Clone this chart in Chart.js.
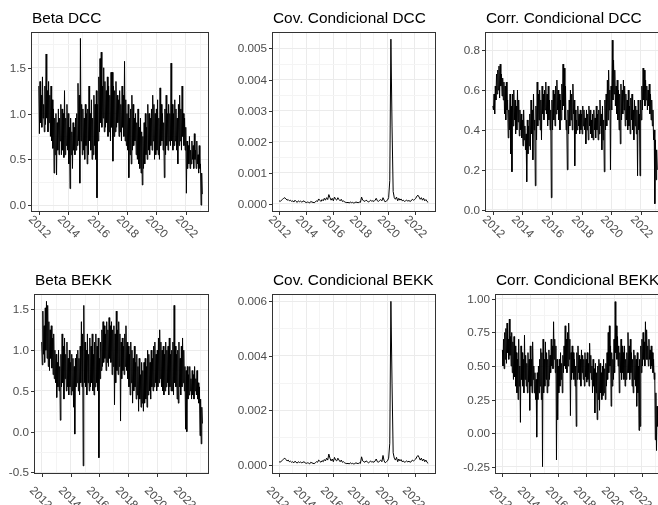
<!DOCTYPE html>
<html>
<head>
<meta charset="utf-8">
<script src="https://cdn.jsdelivr.net/npm/chart.js@4.4.1/dist/chart.umd.min.js"></script>
<style>
  html, body { margin: 0; padding: 0; background: #ffffff; }
  #wrap { position: relative; width: 658px; height: 505px; overflow: hidden; background: #ffffff; }
  canvas { position: absolute; }
</style>
</head>
<body>
<div id="wrap">
  <canvas id="p1"></canvas>
  <canvas id="p2"></canvas>
  <canvas id="p3"></canvas>
  <canvas id="p4"></canvas>
  <canvas id="p5"></canvas>
  <canvas id="p6"></canvas>
</div>
<script>
// ==================================================
// DATA (two readings per month
// for beta / corr, one per month for cov)
// ==================================================
const firstYear = 2012;
const xTickYears = [2012, 2014, 2016, 2018, 2020, 2022];
const xTickLabels = ["2012", "2014", "2016", "2018", "2020", "2022"];

const betaDcc = [
  1.30,0.78, 1.35,0.90, 1.20,0.85, 1.40,0.95, 1.10,0.80, 1.30,0.88, 1.65,0.95, 1.25,0.80, 1.35,0.90, 1.20,0.75, 1.30,0.70, 1.15,0.62,
  1.05,0.35, 0.95,0.55, 1.00,0.33, 0.90,0.60, 1.05,0.55, 0.95,0.70, 1.10,0.55, 1.05,0.60, 1.00,0.52, 1.25,0.55, 0.95,0.65, 1.10,0.60,
  1.00,0.45, 0.85,0.18, 0.95,0.55, 0.80,0.40, 0.90,0.60, 0.85,0.55, 0.95,0.60, 1.00,0.65, 1.33,0.70, 1.20,0.24, 1.82,0.70, 1.10,0.55,
  1.05,0.60, 0.95,0.50, 1.10,0.65, 1.00,0.45, 1.05,0.55, 1.30,0.70, 1.00,0.60, 1.15,0.50, 0.95,0.55, 1.20,0.65, 1.10,0.50, 1.25,0.08,
  1.10,0.70, 1.40,0.80, 1.60,0.90, 1.67,0.85, 1.30,0.95, 1.50,0.80, 1.35,0.85, 1.25,0.90, 1.40,0.75, 1.30,0.80, 1.20,0.70, 1.45,0.85,
  1.45,0.48, 1.30,0.75, 1.25,0.80, 1.35,0.85, 1.20,0.90, 1.15,0.75, 1.25,0.80, 1.10,0.70, 1.30,0.85, 1.20,0.75, 1.57,0.70, 1.15,0.65,
  1.00,0.60, 1.10,0.30, 0.95,0.55, 1.05,0.45, 1.20,0.60, 1.10,0.65, 0.95,0.70, 1.00,0.55, 0.90,0.50, 1.05,0.45, 0.85,0.40, 0.95,0.35,
  0.80,0.22, 0.75,0.40, 0.90,0.45, 1.00,0.55, 0.85,0.50, 1.10,0.60, 1.00,0.55, 0.95,0.65, 1.05,0.60, 1.20,0.70, 1.10,0.50, 1.00,0.55,
  1.05,0.60, 1.15,0.55, 0.95,0.50, 1.28,0.65, 1.10,0.70, 1.00,0.60, 0.90,0.30, 1.05,0.55, 1.20,0.65, 1.00,0.60, 1.10,0.70, 1.00,0.65,
  1.55,0.70, 1.10,0.60, 1.00,0.65, 1.15,0.70, 1.05,0.60, 0.95,0.45, 1.10,0.65, 1.20,0.70, 1.05,0.60, 1.30,0.75, 1.00,0.65, 0.95,0.60,
  0.85,0.13, 0.70,0.40, 0.65,0.45, 0.75,0.40, 0.60,0.45, 0.70,0.50, 0.65,0.40, 0.78,0.50, 0.60,0.40, 0.70,0.45, 0.55,0.35, 0.65,0.40,
  0.45,0.00, 0.35,0.12
];

const covDcc = [
  0.00010,0.00008,0.00012,0.00015,0.00018,0.00020,0.00016,0.00012,0.00014,0.00010,0.00012,0.00008,
  0.00010,0.00006,0.00012,0.00008,0.00005,0.00010,0.00007,0.00009,0.00006,0.00008,0.00010,0.00006,
  0.00004,0.00006,0.00005,0.00003,0.00008,0.00006,0.00005,0.00004,0.00006,0.00010,0.00008,0.00016,
  0.00012,0.00008,0.00014,0.00010,0.00018,0.00012,0.00020,0.00014,0.00030,0.00020,0.00012,0.00018,
  0.00010,0.00022,0.00015,0.00012,0.00020,0.00014,0.00010,0.00015,0.00008,0.00010,0.00006,0.00005,
  0.00004,0.00005,0.00003,0.00006,0.00004,0.00005,0.00003,0.00004,0.00006,0.00005,0.00004,0.00006,
  0.00005,0.00022,0.00012,0.00010,0.00008,0.00012,0.00010,0.00006,0.00008,0.00012,0.00009,0.00010,
  0.00008,0.00012,0.00018,0.00010,0.00008,0.00012,0.00014,0.00010,0.00020,0.00012,0.00006,0.00010,
  0.00012,0.00020,0.00075,0.00530,0.00250,0.00040,0.00020,0.00015,0.00022,0.00010,0.00018,0.00012,
  0.00016,0.00010,0.00012,0.00008,0.00010,0.00012,0.00009,0.00011,0.00008,0.00010,0.00015,0.00012,
  0.00014,0.00018,0.00025,0.00028,0.00022,0.00015,0.00020,0.00012,0.00018,0.00010,0.00014,0.00008,
  0.00005
];

const corrDcc = [
  0.52,0.50, 0.58,0.48, 0.62,0.55, 0.68,0.58, 0.70,0.60, 0.72,0.56, 0.73,0.62, 0.68,0.57, 0.66,0.55, 0.64,0.48, 0.62,0.45, 0.64,0.50,
  0.55,0.36, 0.50,0.40, 0.58,0.28, 0.52,0.19, 0.58,0.42, 0.60,0.45, 0.55,0.38, 0.52,0.40, 0.60,0.44, 0.55,0.37, 0.50,0.40, 0.48,0.36,
  0.45,0.32, 0.50,0.35, 0.42,0.30, 0.38,0.14, 0.45,0.28, 0.42,0.32, 0.48,0.30, 0.55,0.38, 0.50,0.25, 0.58,0.40, 0.45,0.12, 0.52,0.35,
  0.64,0.42, 0.58,0.45, 0.60,0.40, 0.55,0.35, 0.62,0.48, 0.58,0.45, 0.60,0.50, 0.64,0.48, 0.58,0.42, 0.62,0.45, 0.55,0.40, 0.50,0.06,
  0.55,0.40, 0.60,0.45, 0.58,0.42, 0.62,0.48, 0.65,0.50, 0.60,0.45, 0.58,0.40, 0.55,0.45, 0.63,0.50, 0.73,0.52, 0.71,0.45, 0.62,0.40,
  0.45,0.20, 0.50,0.38, 0.55,0.42, 0.60,0.45, 0.58,0.40, 0.63,0.48, 0.55,0.22, 0.50,0.38, 0.45,0.40, 0.52,0.42, 0.48,0.38, 0.50,0.40,
  0.48,0.38, 0.52,0.42, 0.50,0.40, 0.46,0.33, 0.50,0.40, 0.48,0.35, 0.52,0.42, 0.50,0.38, 0.45,0.36, 0.48,0.35, 0.50,0.40, 0.46,0.36,
  0.52,0.40, 0.48,0.35, 0.50,0.38, 0.55,0.42, 0.48,0.30, 0.52,0.35, 0.45,0.19, 0.55,0.40, 0.58,0.42, 0.65,0.45, 0.70,0.50, 0.60,0.20,
  0.62,0.50, 0.85,0.55, 0.75,0.58, 0.70,0.52, 0.62,0.48, 0.65,0.45, 0.60,0.40, 0.58,0.33, 0.63,0.45, 0.60,0.48, 0.65,0.50, 0.62,0.42,
  0.58,0.45, 0.55,0.40, 0.60,0.42, 0.52,0.38, 0.56,0.45, 0.58,0.40, 0.50,0.35, 0.55,0.42, 0.52,0.38, 0.50,0.17, 0.55,0.40, 0.48,0.17,
  0.55,0.45, 0.62,0.50, 0.71,0.55, 0.70,0.52, 0.65,0.55, 0.62,0.50, 0.60,0.52, 0.63,0.48, 0.58,0.45, 0.55,0.42, 0.50,0.35, 0.40,0.03,
  0.35,0.15, 0.30,0.20
];

const betaBekk = [
  1.10,0.82, 1.48,0.95, 1.30,0.85, 1.52,1.00, 1.60,0.90, 1.55,0.80, 1.35,0.75, 1.25,0.90, 1.30,0.78, 1.15,0.70, 1.20,0.65, 1.00,0.60,
  0.95,0.42, 0.85,0.55, 1.00,0.50, 0.80,0.14, 0.95,0.55, 1.20,0.60, 1.05,0.40, 1.15,0.65, 0.95,0.50, 1.10,0.55, 0.90,0.45, 1.00,0.55,
  0.85,0.45, 0.95,0.50, 0.90,0.30, 0.80,-0.03, 0.90,0.55, 0.95,0.60, 1.00,0.50, 0.90,0.45, 1.05,0.60, 1.35,0.55, 1.20,-0.42, 1.55,0.60,
  1.10,0.55, 1.00,0.45, 1.20,0.60, 0.95,0.50, 1.15,0.55, 1.05,0.60, 1.20,0.50, 0.95,0.45, 1.10,0.55, 1.20,0.60, 1.05,0.50, 1.15,-0.32,
  0.90,0.65, 1.10,0.75, 1.25,0.80, 1.35,0.85, 1.30,0.90, 1.20,0.75, 1.35,0.85, 1.25,0.80, 1.40,0.90, 1.30,0.85, 1.35,0.70, 1.25,0.80,
  1.30,0.33, 1.20,0.60, 1.48,0.75, 1.25,0.70, 1.35,0.80, 1.20,0.13, 1.10,0.65, 1.15,0.75, 1.05,0.70, 1.20,0.80, 1.30,0.75, 1.10,0.65,
  1.05,0.55, 0.95,0.45, 1.10,0.60, 1.00,0.35, 0.90,0.50, 1.05,0.55, 0.85,0.40, 0.95,0.45, 0.80,0.25, 0.90,0.40, 0.70,0.30, 0.85,0.35,
  0.75,0.25, 0.85,0.35, 0.90,0.40, 0.80,0.30, 1.00,0.45, 0.95,0.50, 0.85,0.40, 1.00,0.55, 0.90,0.50, 1.05,0.55, 1.10,0.60, 0.95,0.50,
  1.00,0.55, 1.15,0.60, 1.25,0.65, 1.10,0.55, 1.00,0.50, 1.05,0.45, 0.95,0.50, 1.10,0.55, 1.00,0.60, 1.05,0.45, 1.15,0.55, 0.95,0.50,
  1.00,0.50, 1.10,0.45, 1.55,0.60, 1.05,0.55, 0.95,0.40, 1.00,0.35, 1.10,0.55, 0.90,0.45, 1.05,0.55, 1.15,0.60, 1.00,0.50, 0.80,0.03,
  0.75,0.00, 0.80,0.40, 0.70,0.45, 0.80,0.50, 0.65,0.40, 0.75,0.45, 0.70,0.40, 0.80,0.50, 0.65,0.45, 0.75,0.40, 0.60,0.35, 0.55,-0.05,
  0.40,-0.15, 0.30,0.10
];

const covBekk = [
  0.00012,0.00010,0.00015,0.00018,0.00022,0.00025,0.00020,0.00015,0.00018,0.00012,0.00014,0.00010,
  0.00012,0.00008,0.00014,0.00010,0.00007,0.00012,0.00009,0.00011,0.00008,0.00010,0.00012,0.00008,
  0.00006,0.00008,0.00007,0.00004,0.00010,0.00008,0.00006,0.00005,0.00008,0.00012,0.00010,0.00018,
  0.00014,0.00010,0.00016,0.00012,0.00020,0.00015,0.00025,0.00018,0.00040,0.00025,0.00015,0.00022,
  0.00012,0.00028,0.00018,0.00015,0.00025,0.00018,0.00012,0.00018,0.00010,0.00012,0.00008,0.00006,
  0.00005,0.00006,0.00004,0.00008,0.00005,0.00006,0.00004,0.00005,0.00008,0.00006,0.00005,0.00008,
  0.00006,0.00030,0.00015,0.00012,0.00010,0.00015,0.00012,0.00008,0.00010,0.00015,0.00011,0.00012,
  0.00010,0.00015,0.00022,0.00012,0.00010,0.00015,0.00018,0.00012,0.00035,0.00015,0.00008,0.00012,
  0.00015,0.00025,0.00080,0.00600,0.00300,0.00045,0.00025,0.00018,0.00028,0.00012,0.00022,0.00015,
  0.00020,0.00012,0.00015,0.00010,0.00012,0.00015,0.00011,0.00014,0.00010,0.00012,0.00018,0.00015,
  0.00018,0.00022,0.00030,0.00035,0.00028,0.00018,0.00025,0.00015,0.00022,0.00012,0.00018,0.00010,
  0.00006
];

const corrBekk = [
  0.62,0.50, 0.70,0.48, 0.75,0.55, 0.78,0.52, 0.82,0.60, 0.70,0.55, 0.85,0.58, 0.72,0.50, 0.75,0.45, 0.68,0.40, 0.72,0.42, 0.65,0.35,
  0.60,0.30, 0.55,0.25, 0.70,0.35, 0.50,0.08, 0.65,0.40, 0.60,0.35, 0.55,0.30, 0.73,0.40, 0.58,0.35, 0.52,0.30, 0.60,0.38, 0.55,0.17,
  0.65,0.35, 0.55,0.30, 0.68,0.40, 0.50,0.30, 0.45,0.25, 0.40,-0.03, 0.45,0.25, 0.50,0.30, 0.55,0.35, 0.63,0.25, 0.60,-0.25, 0.70,0.30,
  0.55,0.35, 0.68,0.40, 0.60,0.30, 0.55,0.35, 0.62,0.40, 0.58,0.45, 0.70,0.50, 0.65,0.48, 0.83,0.55, 0.70,0.45, 0.65,-0.20, 0.55,0.10,
  0.50,0.30, 0.55,0.35, 0.60,0.40, 0.52,0.30, 0.58,0.45, 0.65,0.50, 0.80,0.48, 0.70,0.45, 0.75,0.50, 0.82,0.55, 0.70,0.13, 0.60,0.40,
  0.65,0.45, 0.60,0.40, 0.55,0.35, 0.50,0.05, 0.60,0.40, 0.65,0.45, 0.58,0.40, 0.55,0.35, 0.62,0.45, 0.58,0.40, 0.55,0.35, 0.60,0.42,
  0.55,0.38, 0.60,0.40, 0.52,0.35, 0.67,0.45, 0.58,0.40, 0.50,0.30, 0.55,0.35, 0.48,0.15, 0.52,0.30, 0.45,0.10, 0.50,0.25, 0.55,0.17,
  0.52,0.30, 0.45,0.25, 0.50,0.28, 0.55,0.30, 0.48,0.25, 0.52,0.35, 0.60,0.40, 0.75,0.45, 0.80,0.50, 0.65,0.20, 0.60,0.35, 0.55,0.40,
  0.70,0.45, 0.98,0.60, 0.80,0.55, 0.72,0.50, 0.65,0.30, 0.60,0.45, 0.70,0.40, 0.65,0.45, 0.60,0.40, 0.65,0.35, 0.55,0.40, 0.60,0.45,
  0.75,0.45, 0.65,0.40, 0.70,0.45, 0.60,0.35, 0.55,0.30, 0.62,0.40, 0.58,0.35, 0.55,0.20, 0.60,0.30, 0.50,0.02, 0.55,0.05, 0.65,0.45,
  0.70,0.50, 0.75,0.55, 0.68,0.50, 0.83,0.55, 0.77,0.55, 0.65,0.50, 0.70,0.55, 0.62,0.48, 0.65,0.50, 0.60,0.45, 0.55,0.40, 0.45,-0.05,
  0.30,-0.13, 0.20,0.05
];

// y tick values and their labels for each panel
const yTicksBeta = [0, 0.5, 1, 1.5];
const yLabelsBeta = ["0.0", "0.5", "1.0", "1.5"];
const yTicksCovDcc = [0, 0.001, 0.002, 0.003, 0.004, 0.005];
const yLabelsCovDcc = ["0.000", "0.001", "0.002", "0.003", "0.004", "0.005"];
const yTicksCorrDcc = [0, 0.2, 0.4, 0.6, 0.8];
const yLabelsCorrDcc = ["0.0", "0.2", "0.4", "0.6", "0.8"];
const yTicksBetaBekk = [-0.5, 0, 0.5, 1, 1.5];
const yLabelsBetaBekk = ["-0.5", "0.0", "0.5", "1.0", "1.5"];
const yTicksCovBekk = [0, 0.002, 0.004, 0.006];
const yLabelsCovBekk = ["0.000", "0.002", "0.004", "0.006"];
const yTicksCorrBekk = [-0.25, 0, 0.25, 0.5, 0.75, 1];
const yLabelsCorrBekk = ["-0.25", "0.00", "0.25", "0.50", "0.75", "1.00"];

// ==================================================
// PANEL LAYOUT
// ==================================================
const X_MIN = 2011.47;
const X_MAX = 2023.58;
const PAD = { left: 46, top: 34, right: 8, bottom: 36 };

const panels = [
  { id: "p1", title: "Beta DCC", values: betaDcc, perYear: 24, yMin: -0.075, yMax: 1.89,
    yTicks: yTicksBeta, yLabels: yLabelsBeta, box: [31, 32, 209, 212], labelDx: 0, labelDy: 15 },
  { id: "p2", title: "Cov. Condicional DCC", values: covDcc, perYear: 12, yMin: -0.00026, yMax: 0.00553,
    yTicks: yTicksCovDcc, yLabels: yLabelsCovDcc, box: [272, 32, 436, 212], labelDx: 0, labelDy: 15 },
  { id: "p3", title: "Corr. Condicional DCC", values: corrDcc, perYear: 24, yMin: -0.0115, yMax: 0.891,
    yTicks: yTicksCorrDcc, yLabels: yLabelsCorrDcc, box: [485, 32, 664, 212], labelDx: 0, labelDy: 15 },
  { id: "p4", title: "Beta BEKK", values: betaBekk, perYear: 24, yMin: -0.52, yMax: 1.69,
    yTicks: yTicksBetaBekk, yLabels: yLabelsBetaBekk, box: [34, 294, 209, 474], labelDx: -2, labelDy: 24 },
  { id: "p5", title: "Cov. Condicional BEKK", values: covBekk, perYear: 12, yMin: -0.00033, yMax: 0.00627,
    yTicks: yTicksCovBekk, yLabels: yLabelsCovBekk, box: [272, 294, 436, 474], labelDx: -2, labelDy: 24 },
  { id: "p6", title: "Corr. Condicional BEKK", values: corrBekk, perYear: 24, yMin: -0.305, yMax: 1.037,
    yTicks: yTicksCorrBekk, yLabels: yLabelsCorrBekk, box: [495, 294, 664, 474], labelDx: -2, labelDy: 24 },
];
const panelById = {};
panels.forEach((p) => (panelById[p.id] = p));

const GRID_MAJOR = "#EBEBEB";
const GRID_MINOR = "#F4F4F4";
const AXIS_DARK = "#333333";
const TICK_TEXT = "#4D4D4D";
const FONT = '"Liberation Sans", Arial, sans-serif';

// major ticks plus the halfway (minor) lines, ggplot style
function gridFromMajors(majors, lo, hi) {
  const step = majors[1] - majors[0];
  const out = [];
  for (let k = -1; k <= majors.length; k++) {
    const v = majors[0] + k * step;
    if (v >= lo && v <= hi && k >= 0 && k < majors.length) out.push({ value: v, major: true });
    const m = v + step / 2;
    if (m > lo && m < hi) out.push({ value: m, major: false });
  }
  return out.sort((a, b) => a.value - b.value);
}
const xGrid = [];
for (let yr = 2012; yr <= 2023; yr++) xGrid.push({ value: yr, major: yr % 2 === 0 });

// ==================================================
// DECORATION PLUGIN (border, ticks, labels, title)
// ==================================================
const panelDecor = {
  id: "panelDecor",
  afterDraw(chart) {
    const p = panelById[chart.canvas.id];
    const { ctx, chartArea } = chart;
    const { left, top, right, bottom } = chartArea;
    const xs = chart.scales.x;
    const ys = chart.scales.y;
    ctx.save();

    // panel border
    ctx.strokeStyle = AXIS_DARK;
    ctx.lineWidth = 1;
    ctx.strokeRect(left + 0.5, top + 0.5, right - left - 1, bottom - top - 1);

    // y ticks + labels
    ctx.font = "11.7px " + FONT;
    ctx.fillStyle = TICK_TEXT;
    ctx.textAlign = "right";
    ctx.textBaseline = "middle";
    p.yTicks.forEach((v, i) => {
      const y = Math.round(ys.getPixelForValue(v)) + 0.5;
      ctx.beginPath();
      ctx.moveTo(left - 3, y);
      ctx.lineTo(left, y);
      ctx.stroke();
      ctx.fillText(p.yLabels[i], left - 5, y + 0.5);
    });

    // x ticks + rotated labels
    ctx.textAlign = "center";
    xTickYears.forEach((yr, i) => {
      const x = Math.round(xs.getPixelForValue(yr)) + 0.5;
      ctx.beginPath();
      ctx.moveTo(x, bottom);
      ctx.lineTo(x, bottom + 3);
      ctx.stroke();
      ctx.save();
      ctx.translate(x + p.labelDx, bottom + p.labelDy);
      ctx.rotate(Math.PI / 4);
      ctx.fillText(xTickLabels[i], 0, 0);
      ctx.restore();
    });

    // title
    ctx.fillStyle = "#000000";
    ctx.font = "15.4px " + FONT;
    ctx.textAlign = "left";
    ctx.textBaseline = "alphabetic";
    ctx.fillText(p.title, left + 1, top - 9);
    ctx.restore();
  },
};

// ==================================================
// BUILD CHARTS
// ==================================================
panels.forEach((p) => {
  const [l, t, r, b] = p.box;
  const canvas = document.getElementById(p.id);
  const w = r - l + PAD.left + PAD.right;
  const h = b - t + PAD.top + PAD.bottom;
  canvas.width = w;
  canvas.height = h;
  canvas.style.left = l - PAD.left + "px";
  canvas.style.top = t - PAD.top + "px";
  canvas.style.width = w + "px";
  canvas.style.height = h + "px";

  const points = p.values.map((v, i) => ({ x: firstYear + i / p.perYear, y: v }));
  const yGrid = gridFromMajors(p.yTicks, p.yMin, p.yMax);

  new Chart(canvas, {
    type: "line",
    data: {
      datasets: [
        {
          data: points,
          borderColor: "#000000",
          borderWidth: 1,
          pointRadius: 0,
          tension: 0,
          fill: false,
        },
      ],
    },
    options: {
      responsive: false,
      animation: false,
      events: [],
      layout: { padding: PAD },
      plugins: { legend: { display: false }, tooltip: { enabled: false } },
      scales: {
        x: {
          type: "linear",
          min: X_MIN,
          max: X_MAX,
          ticks: { display: false },
          border: { display: false },
          grid: {
            drawTicks: false,
            lineWidth: 1,
            color: (c) => (c.tick && c.tick.major ? GRID_MAJOR : GRID_MINOR),
          },
          afterBuildTicks: (axis) => {
            axis.ticks = xGrid.map((g) => ({ value: g.value, major: g.major }));
          },
        },
        y: {
          type: "linear",
          min: p.yMin,
          max: p.yMax,
          ticks: { display: false },
          border: { display: false },
          grid: {
            drawTicks: false,
            lineWidth: 1,
            color: (c) => (c.tick && c.tick.major ? GRID_MAJOR : GRID_MINOR),
          },
          afterBuildTicks: (axis) => {
            axis.ticks = yGrid.map((g) => ({ value: g.value, major: g.major }));
          },
        },
      },
    },
    plugins: [panelDecor],
  });
});
</script>
</body>
</html>
